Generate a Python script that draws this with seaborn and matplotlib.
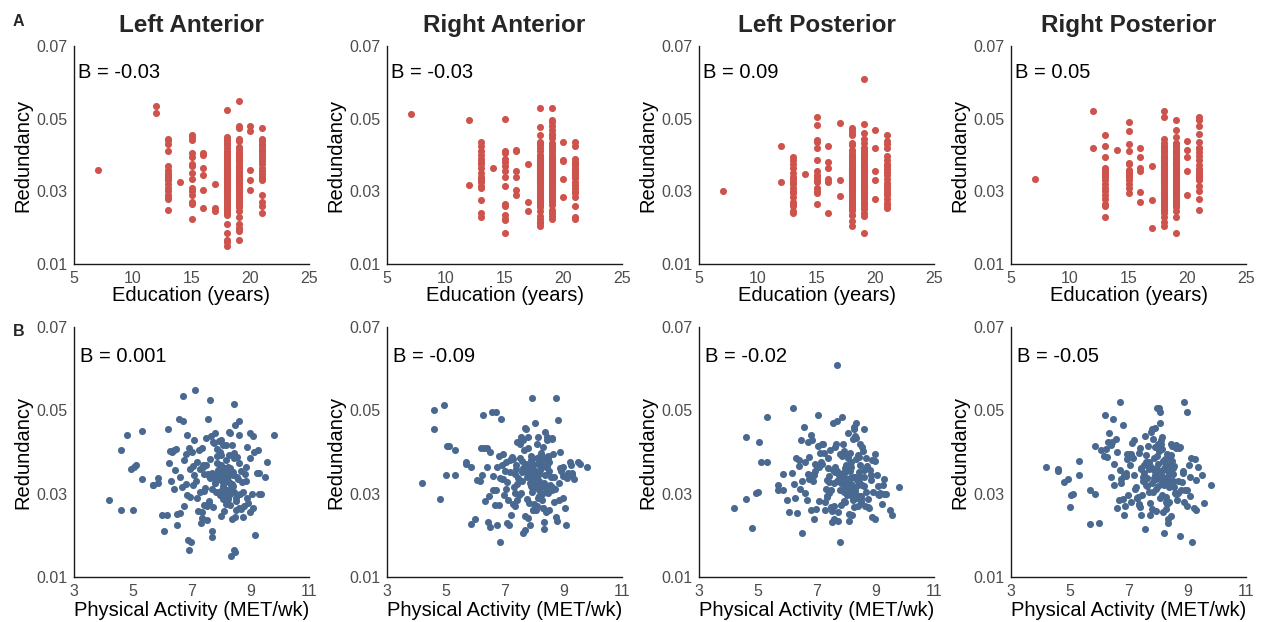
import matplotlib
matplotlib.use("Agg")
import matplotlib.pyplot as plt
import pandas as pd
import seaborn as sns

# ---- per-subject measurements (one entry per participant) ----
education = [
    7,
    12, 12,
    13, 13, 13, 13, 13, 13, 13, 13, 13, 13, 13, 13, 13, 13, 13, 13, 13, 13,
    14,
    15, 15, 15, 15, 15, 15, 15, 15, 15, 15, 15, 15, 15, 15, 15,
    16, 16, 16, 16, 16, 16,
    17, 17, 17,
    18, 18, 18, 18, 18, 18, 18, 18, 18, 18, 18, 18, 18, 18, 18, 18, 18, 18, 18, 18,
    18, 18, 18, 18, 18, 18, 18, 18, 18, 18, 18, 18, 18, 18, 18, 18, 18, 18, 18, 18,
    18, 18, 18, 18, 18, 18, 18, 18, 18, 18, 18, 18, 18, 18, 18, 18, 18, 18, 18, 18,
    18, 18, 18, 18, 18, 18, 18, 18, 18, 18,
    19, 19, 19, 19, 19, 19, 19, 19, 19, 19, 19, 19, 19, 19, 19, 19, 19, 19, 19, 19,
    19, 19, 19, 19, 19, 19, 19, 19, 19, 19, 19, 19, 19, 19, 19, 19, 19, 19, 19, 19,
    19, 19, 19, 19, 19, 19, 19, 19, 19, 19, 19, 19, 19, 19, 19, 19, 19, 19,
    20, 20, 20, 20, 20,
    21, 21, 21, 21, 21, 21, 21, 21, 21, 21, 21, 21, 21, 21, 21, 21, 21, 21, 21, 21,
    21, 21,
]

activity = [
    4.95,
    6.70, 8.45,
    4.20, 7.80, 6.30, 8.60, 5.70, 7.10, 8.20, 6.90, 9.30, 7.50, 6.00, 8.40, 7.30, 8.90,
    6.60, 7.90, 8.10, 7.60,
    5.85,
    4.60, 5.30, 6.20, 6.80, 7.20, 7.40, 7.70, 7.95, 8.05, 8.30, 8.50, 8.80, 9.10, 6.50,
    6.85,
    5.05, 6.40, 7.00, 7.75, 8.45, 9.00,
    7.05, 7.35, 8.75,
    7.62, 8.14, 6.85, 8.41, 7.93, 9.05, 8.27, 7.18, 8.63, 6.52,
    8.05, 7.74, 8.88, 7.41, 8.19, 6.97, 8.36, 7.86, 4.80, 8.52,
    7.57, 8.11, 6.68, 9.22, 7.99, 8.31, 7.26, 8.72, 8.02, 6.33,
    7.69, 8.45, 7.95, 5.00, 8.23, 7.48, 8.58, 8.09, 6.91, 7.81,
    9.58, 8.17, 7.35, 8.40, 6.76, 8.66, 7.89, 8.29, 7.06, 8.93,
    7.53, 8.13, 6.44, 8.34, 7.71, 9.12, 8.21, 7.64, 8.49, 5.30,
    7.97, 8.06, 6.62, 8.81, 7.44, 8.25, 7.83, 9.80, 8.38, 6.15,
    8.03, 7.46, 8.56, 6.94, 8.22, 7.77, 9.15, 8.35, 7.08, 8.61,
    7.88, 6.58, 8.28, 7.59, 8.98, 8.12, 7.23, 8.44, 6.80, 7.92,
    8.70, 7.67, 5.10, 8.18, 7.39, 9.30, 8.07, 6.27, 7.84, 8.47,
    7.13, 8.32, 6.71, 7.98, 8.55, 9.00, 7.52, 8.16, 6.05, 7.79,
    8.39, 7.31, 8.76, 5.70, 7.94, 8.24, 6.88, 9.35, 8.00, 7.60,
    8.43, 6.40, 7.87, 8.68, 7.70, 9.25, 8.10, 4.60,
    7.55, 8.48, 6.95, 8.87, 7.28,
    8.08, 7.43, 8.62, 6.74, 8.26, 7.91, 9.08, 7.15, 8.37, 6.48,
    8.84, 7.72, 8.15, 5.85, 7.98, 8.53, 6.22, 8.30, 7.62, 9.50,
    8.01, 7.36,
]

left_anterior = [
    .0360,
    .0535, .0515,
    .0285, .0445, .0330, .0440, .0320, .0430, .0350, .0410, .0300, .0370, .0250, .0345,
    .0360, .0290, .0340, .0335, .0310, .0280,
    .0325,
    .0405, .0450, .0455, .0395, .0375, .0370, .0350, .0335, .0310, .0300, .0290, .0270,
    .0265, .0225, .0440,
    .0365, .0405, .0400, .0345, .0305, .0255,
    .0320, .0255, .0245,
    .0338, .0362, .0296, .0318, .0427, .0300, .0345, .0289, .0374, .0252,
    .0331, .0268, .0412, .0307, .0356, .0185, .0321, .0391, .0440, .0283,
    .0347, .0302, .0315, .0350, .0369, .0274, .0405, .0327, .0246, .0399,
    .0312, .0386, .0342, .0262, .0293, .0433, .0336, .0258, .0165, .0325,
    .0375, .0418, .0241, .0353, .0380, .0299, .0335, .0449, .0366, .0278,
    .0236, .0329, .0358, .0150, .0210, .0400, .0310, .0525, .0160, .0335,
    .0395, .0287, .0254, .0348, .0272, .0364, .0305, .0440, .0323, .0248,
    .0352, .0314, .0387, .0291, .0336, .0422, .0200, .0308, .0345, .0266,
    .0373, .0480, .0328, .0282, .0385, .0341, .0258, .0397, .0324, .0303,
    .0355, .0438, .0370, .0276, .0364, .0350, .0318, .0402, .0335, .0245,
    .0550, .0361, .0475, .0296, .0339, .0445, .0271, .0380, .0210, .0326,
    .0416, .0229, .0305, .0320, .0358, .0287, .0190, .0300, .0392, .0343,
    .0165, .0311, .0408, .0264, .0195, .0405, .0333, .0260,
    .0480, .0465, .0360, .0330, .0305,
    .0416, .0347, .0475, .0270, .0392, .0356, .0438, .0330, .0240, .0408,
    .0365, .0424, .0290, .0338, .0400, .0260, .0374, .0445, .0383, .0340,
    .0430, .0410,
]

right_anterior = [
    .0513,
    .0497, .0318,
    .0325, .0435, .0410, .0315, .0375, .0230, .0390, .0335, .0350, .0425, .0240, .0365,
    .0275, .0400, .0310, .0380, .0340, .0330,
    .0363,
    .0500, .0405, .0410, .0390, .0380, .0370, .0355, .0340, .0315, .0265, .0260, .0235,
    .0225, .0220, .0185,
    .0415, .0410, .0355, .0340, .0305, .0290,
    .0375, .0270, .0245,
    .0205, .0372, .0338, .0306, .0530, .0265, .0391, .0352, .0432, .0401,
    .0318, .0455, .0362, .0284, .0347, .0296, .0215, .0325, .0288, .0376,
    .0302, .0419, .0274, .0375, .0336, .0265, .0389, .0312, .0358, .0282,
    .0246, .0437, .0329, .0345, .0384, .0297, .0341, .0271, .0369, .0410,
    .0372, .0308, .0348, .0256, .0225, .0395, .0319, .0366, .0312, .0354,
    .0385, .0290, .0232, .0326, .0214, .0338, .0379, .0428, .0301, .0345,
    .0262, .0353, .0342, .0477, .0324, .0398, .0278, .0365, .0344, .0331,
    .0470, .0338, .0312, .0395, .0356, .0288, .0350, .0231, .0327, .0434,
    .0361, .0495, .0299, .0378, .0342, .0386, .0248, .0366, .0272, .0315,
    .0281, .0404, .0415, .0330, .0359, .0345, .0262, .0490, .0348, .0391,
    .0286, .0412, .0309, .0371, .0322, .0365, .0420, .0294, .0334, .0241,
    .0448, .0316, .0530, .0372, .0305, .0380, .0480, .0335, .0275, .0351,
    .0428, .0365, .0225, .0340, .0457, .0370, .0318, .0455,
    .0435, .0385, .0335, .0285, .0383,
    .0350, .0425, .0310, .0365, .0285, .0390, .0340, .0225, .0380, .0295,
    .0325, .0372, .0435, .0228, .0260, .0355, .0345, .0318, .0362, .0375,
    .0336, .0302,
]

left_posterior = [
    .0302,
    .0425, .0327,
    .0265, .0395, .0385, .0340, .0320, .0365, .0295, .0240, .0335, .0310, .0285, .0270,
    .0260, .0245, .0375, .0350, .0300, .0325,
    .0348,
    .0435, .0483, .0505, .0440, .0420, .0385, .0355, .0340, .0325, .0310, .0295, .0265,
    .0300, .0330, .0345,
    .0425, .0380, .0365, .0335, .0325, .0240,
    .0488, .0332, .0288,
    .0412, .0337, .0428, .0392, .0305, .0345, .0455, .0371, .0318, .0205,
    .0296, .0235, .0380, .0343, .0324, .0263, .0470, .0331, .0218, .0288,
    .0357, .0235, .0285, .0275, .0361, .0301, .0398, .0367, .0314, .0254,
    .0475, .0352, .0283, .0305, .0339, .0267, .0402, .0327, .0346, .0309,
    .0250, .0376, .0292, .0321, .0388, .0270, .0336, .0460, .0415, .0305,
    .0259, .0355, .0311, .0383, .0330, .0296, .0248, .0364, .0341, .0375,
    .0317, .0394, .0302, .0358, .0328, .0432, .0272, .0315, .0290, .0350,
    .0336, .0404, .0322, .0371, .0298, .0345, .0302, .0433, .0282, .0357,
    .0391, .0460, .0315, .0240, .0378, .0329, .0419, .0295, .0262, .0350,
    .0386, .0420, .0375, .0308, .0361, .0300, .0445, .0290, .0326, .0368,
    .0398, .0341, .0348, .0279, .0412, .0395, .0233, .0363, .0255, .0185,
    .0332, .0312, .0268, .0310, .0402, .0286, .0330, .0299, .0355, .0271,
    .0388, .0366, .0485, .0304, .0610, .0320, .0252, .0288,
    .0470, .0420, .0355, .0332, .0280,
    .0385, .0302, .0455, .0335, .0268, .0420, .0318, .0375, .0290, .0430,
    .0345, .0255, .0398, .0310, .0362, .0280, .0323, .0438, .0352, .0262,
    .0370, .0295,
]

right_posterior = [
    .0335,
    .0520, .0420,
    .0365, .0455, .0425, .0300, .0310, .0395, .0360, .0350, .0260, .0340, .0230, .0330,
    .0290, .0280, .0265, .0345, .0355, .0320,
    .0415,
    .0355, .0378, .0490, .0465, .0430, .0410, .0375, .0360, .0350, .0340, .0330, .0310,
    .0295, .0320, .0345,
    .0298, .0418, .0395, .0365, .0355, .0270,
    .0370, .0275, .0198,
    .0338, .0407, .0250, .0356, .0312, .0368, .0291, .0346, .0414, .0372,
    .0505, .0278, .0520, .0361, .0323, .0298, .0240, .0386, .0328, .0347,
    .0215, .0333, .0285, .0265, .0371, .0395, .0317, .0410, .0352, .0445,
    .0305, .0366, .0258, .0268, .0384, .0331, .0302, .0420, .0342, .0264,
    .0278, .0357, .0273, .0389, .0326, .0284, .0412, .0337, .0393, .0310,
    .0370, .0296, .0425, .0230, .0359, .0385, .0205, .0318, .0378, .0345,
    .0353, .0289, .0401, .0327, .0249, .0364, .0432, .0320, .0280, .0390,
    .0402, .0298, .0367, .0384, .0321, .0449, .0185, .0354, .0279, .0410,
    .0338, .0432, .0263, .0376, .0495, .0345, .0311, .0392, .0287, .0360,
    .0331, .0414, .0300, .0378, .0267, .0332, .0470, .0389, .0305, .0347,
    .0422, .0276, .0356, .0391, .0315, .0308, .0349, .0257, .0405, .0325,
    .0369, .0292, .0412, .0228, .0335, .0380, .0271, .0365, .0318, .0394,
    .0246, .0340, .0358, .0302, .0374, .0383, .0428, .0360,
    .0438, .0415, .0395, .0355, .0290,
    .0495, .0360, .0418, .0335, .0280, .0458, .0340, .0385, .0315, .0480,
    .0350, .0250, .0435, .0300, .0505, .0362, .0408, .0330, .0372, .0345,
    .0420, .0398,
]

# ---- panel text ----
regions = ["left_anterior", "right_anterior", "left_posterior", "right_posterior"]
region_titles = ["Left Anterior", "Right Anterior", "Left Posterior", "Right Posterior"]
edu_betas = ["B = -0.03", "B = -0.03", "B = 0.09", "B = 0.05"]
pa_betas = ["B = 0.001", "B = -0.09", "B = -0.02", "B = -0.05"]

edu_ticks = [5, 10, 15, 20, 25]
pa_ticks = [3, 5, 7, 9, 11]
red_ticks = [0.01, 0.03, 0.05, 0.07]
red_tick_labels = ["0.01", "0.03", "0.05", "0.07"]

df = pd.DataFrame({
    "education": education,
    "activity": activity,
    "left_anterior": left_anterior,
    "right_anterior": right_anterior,
    "left_posterior": left_posterior,
    "right_posterior": right_posterior,
})

sns.set_style("white")
plt.rcParams["font.family"] = ["Liberation Sans", "DejaVu Sans"]

RED = "#CD534C"
BLUE = "#4A6990"
TICK_GREY = "#4D4D4D"

W, H = 1261, 622
fig = plt.figure(figsize=(W / 100, H / 100), dpi=100)

col_left = [74, 387, 699, 1011]
ax_w = 235
rows = [  # (top px, bottom px)
    (46, 264),
    (327, 577),
]


def style_axis(ax):
    for side in ("top", "right"):
        ax.spines[side].set_visible(False)
    for side in ("left", "bottom"):
        ax.spines[side].set_color("#1a1a1a")
        ax.spines[side].set_linewidth(1.0)
    ax.tick_params(axis="both", which="major", direction="out", length=3.2,
                   width=1.0, color="#333333", labelsize=11.5,
                   labelcolor=TICK_GREY, pad=1.5)
    ax.set_yticks(red_ticks)
    ax.set_yticklabels(red_tick_labels)
    ax.set_ylim(0.01, 0.07)
    ax.set_ylabel("Redundancy", fontsize=14.5, color="black", labelpad=3)
    ax.grid(False)


for row_i, (top, bottom) in enumerate(rows):
    for col_i, region in enumerate(regions):
        left = col_left[col_i]
        ax = fig.add_axes([left / W, 1 - bottom / H, ax_w / W, (bottom - top) / H])
        if row_i == 0:
            xcol, color = "education", RED
        else:
            xcol, color = "activity", BLUE
        sns.scatterplot(data=df, x=xcol, y=region, ax=ax, color=color, s=26,
                        linewidth=0, legend=False, clip_on=False, zorder=3)
        style_axis(ax)
        if row_i == 0:
            ax.set_xlim(5, 25)
            ax.set_xticks(edu_ticks)
            ax.set_xticklabels([str(t) for t in edu_ticks])
            ax.set_xlabel("Education (years)", fontsize=14.5, color="black", labelpad=0)
            ax.set_title(region_titles[col_i], fontsize=17.5, fontweight="bold", pad=10)
            ax.text(0.017, 0.88, edu_betas[col_i], transform=ax.transAxes,
                    ha="left", va="center", fontsize=14.5, color="black")
        else:
            ax.set_xlim(3, 11)
            ax.set_xticks(pa_ticks)
            ax.set_xticklabels([str(t) for t in pa_ticks])
            ax.set_xlabel("Physical Activity (MET/wk)", fontsize=14.5, color="black",
                          labelpad=2)
            ax.text(0.026, 0.88, pa_betas[col_i], transform=ax.transAxes,
                    ha="left", va="center", fontsize=14.5, color="black")

fig.text(13 / W, 1 - 21 / H, "A", fontsize=11.5, fontweight="bold",
         ha="left", va="center")
fig.text(13 / W, 1 - 331 / H, "B", fontsize=11.5, fontweight="bold",
         ha="left", va="center")

fig.savefig("out.png", dpi=100, facecolor="white")
